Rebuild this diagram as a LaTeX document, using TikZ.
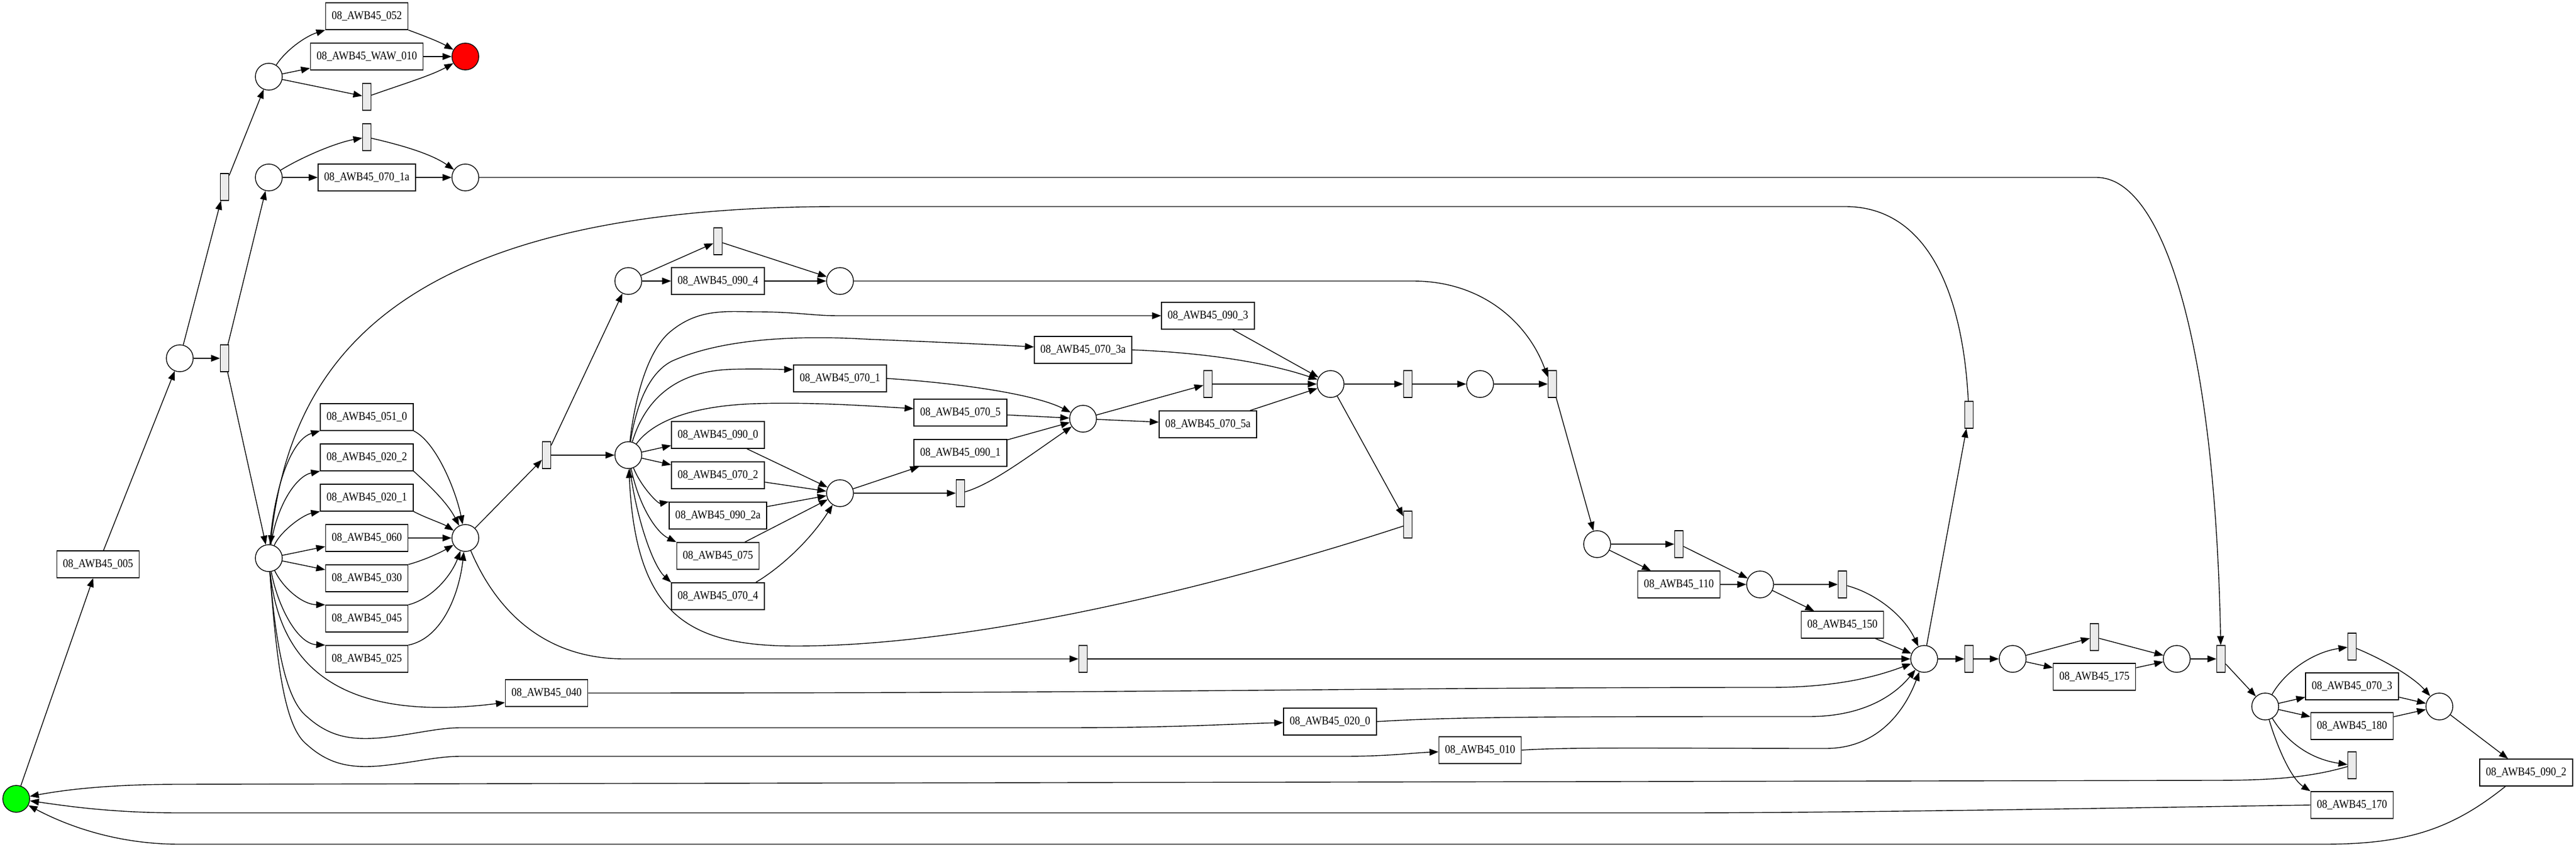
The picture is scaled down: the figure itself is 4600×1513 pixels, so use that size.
\documentclass[tikz,border=0pt]{standalone}
\usepackage{fontspec}
\setmainfont{Liberation Serif}[FakeStretch=0.88]
\usetikzlibrary{arrows.meta,calc}
\definecolor{gvgreen}{RGB}{0,255,0}
\definecolor{gvred}{RGB}{255,0,0}
\definecolor{trfill}{RGB}{235,235,235}
\begin{document}
\begin{tikzpicture}[x=0.02cm,y=-0.02cm,
  pl/.style={circle,draw,line width=0.8pt,minimum size=0.96cm,inner sep=0pt},
  tr/.style={rectangle,draw,line width=0.8pt,fill=trfill,minimum width=0.3cm,minimum height=0.96cm,inner sep=0pt},
  bx/.style={rectangle,draw,line width=0.8pt,minimum height=0.96cm,inner xsep=0.22cm,inner ysep=0pt,font=\fontsize{12}{13}\selectfont},
  arc/.style={-{Triangle[length=0.32cm,width=0.24cm]},line width=0.8pt},
]
\useasboundingbox[fill=white] (0,0) rectangle (4600,1513);
% places
\node[pl,fill=gvgreen] (g) at (29,1427) {};
\node[pl,fill=gvred] (red) at (831,101) {};
\node[pl] (p1) at (480,137) {};
\node[pl] (p2) at (480,317) {};
\node[pl] (p3) at (831,317) {};
\node[pl] (p4) at (321,640) {};
\node[pl] (p5) at (480,997) {};
\node[pl] (p6) at (831,961) {};
\node[pl] (p7) at (1122,502) {};
\node[pl] (p8) at (1500,502) {};
\node[pl] (p9) at (1122,813) {};
\node[pl] (p10) at (1934,748) {};
\node[pl] (p11) at (1500,881) {};
\node[pl] (p12) at (2376,686) {};
\node[pl] (p13) at (2643,686) {};
\node[pl] (p14) at (2852,972) {};
\node[pl] (p15) at (3143,1044) {};
\node[pl] (p16) at (3436,1177) {};
\node[pl] (p17) at (3594,1177) {};
\node[pl] (p18) at (3887,1177) {};
\node[pl] (p19) at (4045,1262) {};
\node[pl] (p20) at (4356,1262) {};
% transitions
\node[tr] (t1) at (655,173) {};
\node[tr] (t2) at (655,245) {};
\node[tr] (t3) at (401,334) {};
\node[tr] (t4) at (401,640) {};
\node[tr] (t5) at (976,813) {};
\node[tr] (t6) at (1282,431) {};
\node[tr] (t7) at (1715,881) {};
\node[tr] (t8) at (1934,1177) {};
\node[tr] (t9) at (2772,686) {};
\node[tr] (t10) at (2157,686) {};
\node[tr] (t11) at (2514,686) {};
\node[tr] (t12) at (2514,937) {};
\node[tr] (t13) at (2998,972) {};
\node[tr] (t14) at (3290,1044) {};
\node[tr] (t15) at (3516,741) {};
\node[tr] (t16) at (3516,1177) {};
\node[tr] (t17) at (3740,1138) {};
\node[tr] (t18) at (3966,1177) {};
\node[tr] (t19) at (4200,1155) {};
\node[tr] (t20) at (4200,1367) {};
% labelled transitions
\node[bx] (b052) at (655,29) {08\_AWB45\_052};
\node[bx] (bWAW) at (655,101) {08\_AWB45\_WAW\_010};
\node[bx] (b070_1a) at (655,317) {08\_AWB45\_070\_1a};
\node[bx] (b005) at (175,1008) {08\_AWB45\_005};
\node[bx] (b051_0) at (655,745) {08\_AWB45\_051\_0};
\node[bx] (b020_2) at (655,817) {08\_AWB45\_020\_2};
\node[bx] (b020_1) at (655,889) {08\_AWB45\_020\_1};
\node[bx] (b060) at (655,961) {08\_AWB45\_060};
\node[bx] (b030) at (655,1033) {08\_AWB45\_030};
\node[bx] (b045) at (655,1105) {08\_AWB45\_045};
\node[bx] (b025) at (655,1177) {08\_AWB45\_025};
\node[bx] (b040) at (976,1238) {08\_AWB45\_040};
\node[bx] (b020_0) at (2375,1289) {08\_AWB45\_020\_0};
\node[bx] (b010) at (2643,1340) {08\_AWB45\_010};
\node[bx] (b090_4) at (1282,502) {08\_AWB45\_090\_4};
\node[bx] (b090_0) at (1282,777) {08\_AWB45\_090\_0};
\node[bx] (b070_2) at (1282,849) {08\_AWB45\_070\_2};
\node[bx] (b090_2a) at (1282,921) {08\_AWB45\_090\_2a};
\node[bx] (b075) at (1282,993) {08\_AWB45\_075};
\node[bx] (b070_4) at (1282,1065) {08\_AWB45\_070\_4};
\node[bx] (b070_1) at (1500,676) {08\_AWB45\_070\_1};
\node[bx] (b070_5) at (1715,737) {08\_AWB45\_070\_5};
\node[bx] (b090_1) at (1715,809) {08\_AWB45\_090\_1};
\node[bx] (b070_3a) at (1934,625) {08\_AWB45\_070\_3a};
\node[bx] (b090_3) at (2157,564) {08\_AWB45\_090\_3};
\node[bx] (b070_5a) at (2157,758) {08\_AWB45\_070\_5a};
\node[bx] (b110) at (2998,1044) {08\_AWB45\_110};
\node[bx] (b150) at (3290,1116) {08\_AWB45\_150};
\node[bx] (b175) at (3740,1209) {08\_AWB45\_175};
\node[bx] (b070_3) at (4200,1226) {08\_AWB45\_070\_3};
\node[bx] (b180) at (4200,1297) {08\_AWB45\_180};
\node[bx] (b170) at (4200,1438) {08\_AWB45\_170};
\node[bx] (b090_2) at (4511,1380) {08\_AWB45\_090\_2};

% ---- arcs ----
\draw[arc] (g) -- (b005);
\draw[arc] (b005) -- (p4);
\draw[arc] (p4) -- (t3);
\draw[arc] (p4) -- (t4);
\draw[arc] (t3) -- (p1);
\draw[arc] (t4) -- (p2);
\draw[arc] (t4) -- (p5);
\draw[arc] (p1) .. controls (510,90) and (545,65) .. (b052.south west);
\draw[arc] (p1) -- (bWAW);
\draw[arc] (p1) -- (t1);
\draw[arc] (b052.south east) .. controls (760,65) and (785,75) .. (red);
\draw[arc] (bWAW) -- (red);
\draw[arc] (t1) .. controls (720,150) and (770,135) .. (red);
\draw[arc] (p2) .. controls (540,280) and (600,255) .. (t2);
\draw[arc] (p2) -- (b070_1a);
\draw[arc] (t2) .. controls (720,260) and (770,275) .. (p3);
\draw[arc] (b070_1a) -- (p3);
\draw[arc] (p3) -- (3744,317) .. controls (3860,317) and (3955,600) .. (t18);
% p5 fan
\draw[arc] (p5) .. controls (490,870) and (520,785) .. (b051_0.south west);
\draw[arc] (p5) .. controls (495,900) and (530,850) .. (b020_2.south west);
\draw[arc] (p5) .. controls (500,950) and (540,920) .. (b020_1.south west);
\draw[arc] (p5) -- (b060);
\draw[arc] (p5) -- (b030);
\draw[arc] (p5) .. controls (505,1050) and (540,1080) .. (b045.north west);
\draw[arc] (p5) .. controls (495,1080) and (530,1150) .. (b025.north west);
\draw[arc] (p5) .. controls (500,1200) and (620,1290) .. ($(b040.west)+(0,17)$);
\draw[arc] (p5) .. controls (492,1150) and (510,1250) .. (548,1280) .. controls (590,1318) and (630,1322) .. (680,1318) .. controls (740,1312) and (780,1300) .. (823,1300) -- (1900,1300) .. controls (2100,1300) and (2200,1293) .. (b020_0);
\draw[arc] (p5) .. controls (495,1200) and (510,1300) .. (548,1330) .. controls (590,1368) and (630,1372) .. (680,1368) .. controls (740,1362) and (780,1351) .. (823,1351) -- (2400,1351) .. controls (2480,1351) and (2520,1345) .. (b010);
% into p6
\draw[arc] (b051_0.south east) .. controls (780,790) and (815,880) .. (p6);
\draw[arc] (b020_2.south east) .. controls (770,870) and (800,900) .. (p6);
\draw[arc] (b020_1.south east) .. controls (760,925) and (790,935) .. (p6);
\draw[arc] (b060) -- (p6);
\draw[arc] (b030.north east) .. controls (760,1000) and (790,985) .. (p6);
\draw[arc] (b045.north east) .. controls (770,1070) and (805,1030) .. (p6);
\draw[arc] (b025.north east) .. controls (790,1140) and (820,1060) .. (p6);
\draw[arc] (p6) -- (t5);
\draw[arc] (p6) .. controls (890,1100) and (980,1177) .. (1115,1177) -- (t8);
\draw[arc] (t5) -- (p7);
\draw[arc] (t5) -- (p9);
\draw[arc] (p7) -- (t6);
\draw[arc] (p7) -- (b090_4);
\draw[arc] (t6) -- (p8);
\draw[arc] (b090_4) -- (p8);
\draw[arc] (p8) -- (2523,502) .. controls (2650,502) and (2730,580) .. ($(t9.north west)+(0,12)$);
% p9 fan
\draw[arc] (p9) .. controls (1135,700) and (1160,620) .. (1200,590) .. controls (1250,550) and (1300,557) .. (1351,557) .. controls (1420,557) and (1450,564) .. (1497,564) -- (b090_3);
\draw[arc] (p9) .. controls (1140,700) and (1170,660) .. (1200,645) .. controls (1300,600) and (1450,600) .. (1550,606) .. controls (1700,612) and (1800,617) .. (b070_3a);
\draw[arc] (p9) .. controls (1150,720) and (1200,665) .. (1300,660) .. controls (1350,658) and (1390,660) .. ($(b070_1.west)+(0,-16)$);
\draw[arc] (p9) .. controls (1160,760) and (1220,725) .. (1351,721) .. controls (1450,718) and (1550,725) .. ($(b070_5.west)+(0,-7)$);
\draw[arc] (p9) -- (b090_0);
\draw[arc] (p9) -- (b070_2);
\draw[arc] (p9) .. controls (1145,870) and (1175,900) .. (b090_2a.north west);
\draw[arc] (p9) .. controls (1140,900) and (1170,950) .. (b075.north west);
\draw[arc] (p9) .. controls (1135,920) and (1165,1010) .. (b070_4.north west);
% into p11
\draw[arc] (b090_0) -- (p11);
\draw[arc] (b070_2) -- (p11);
\draw[arc] (b090_2a) -- (p11);
\draw[arc] (b075) -- (p11);
\draw[arc] ($(b070_4.north east)+(-16,0)$) .. controls (1400,1010) and (1450,960) .. (p11);
\draw[arc] (p11) -- (b090_1);
\draw[arc] (p11) -- (t7);
\draw[arc] (t7) .. controls (1770,865) and (1830,820) .. (p10);
\draw[arc] (b090_1) -- (p10);
\draw[arc] (b070_5) -- (p10);
\draw[arc] (b070_1.east) .. controls (1720,685) and (1850,705) .. (p10);
\draw[arc] (p10) -- (t10);
\draw[arc] (p10) -- (b070_5a);
\draw[arc] (t10) -- (p12);
\draw[arc] (b070_5a) -- (p12);
\draw[arc] (b090_3) -- (p12);
\draw[arc] (b070_3a.east) .. controls (2200,632) and (2300,660) .. (p12);
\draw[arc] (p12) -- (t11);
\draw[arc] (t11) -- (p13);
\draw[arc] (p13) -- (t9);
\draw[arc] (p12) -- (t12);
\draw[arc] (t12) .. controls (2200,1040) and (1750,1154) .. (1421,1154) .. controls (1230,1154) and (1135,1100) .. (p9);
% right part
\draw[arc] (t9) -- (p14);
\draw[arc] (p14) -- (t13);
\draw[arc] (p14) -- (b110);
\draw[arc] (t13) -- (p15);
\draw[arc] (b110) -- (p15);
\draw[arc] (p15) -- (t14);
\draw[arc] (p15) -- (b150);
\draw[arc] (t14) .. controls (3350,1060) and (3400,1100) .. (p16);
\draw[arc] (b150) -- (p16);
\draw[arc] (t8) -- (p16);
\draw[arc] (b040.east) .. controls (2200,1238) and (2400,1228) .. (3160,1228) .. controls (3290,1228) and (3360,1205) .. (p16);
\draw[arc] (b020_0.east) .. controls (2600,1280) and (2800,1280) .. (3230,1280) .. controls (3330,1280) and (3385,1240) .. (p16);
\draw[arc] (b010.east) .. controls (2800,1334) and (3000,1337) .. (3260,1337) .. controls (3360,1337) and (3405,1260) .. (p16);
\draw[arc] (p16) -- (t15);
\draw[arc] (t15) .. controls (3505,520) and (3440,369) .. (3295,369) -- (1500,369) .. controls (700,369) and (520,650) .. (p5);
\draw[arc] (p16) -- (t16);
\draw[arc] (t16) -- (p17);
\draw[arc] (p17) -- (t17);
\draw[arc] (p17) -- (b175);
\draw[arc] (t17) -- (p18);
\draw[arc] (b175) -- (p18);
\draw[arc] (p18) -- (t18);
\draw[arc] (t18) -- (p19);
\draw[arc] (p19) .. controls (4080,1200) and (4130,1165) .. (t19);
\draw[arc] (p19) -- (b070_3);
\draw[arc] (p19) -- (b180);
\draw[arc] (p19) .. controls (4080,1320) and (4120,1355) .. (t20);
\draw[arc] (p19) .. controls (4065,1330) and (4090,1390) .. (b170.north west);
\draw[arc] (t19) .. controls (4260,1180) and (4310,1210) .. (p20);
\draw[arc] (b070_3) -- (p20);
\draw[arc] (b180) -- (p20);
\draw[arc] (p20) -- (b090_2);
% returns to the initial place
\draw[arc] (t20) .. controls (4120,1390) and (4050,1394) .. (3950,1394) -- (320,1401) .. controls (200,1401) and (120,1410) .. (g);
\draw[arc] (b170.west) .. controls (3800,1443) and (3300,1452) .. (3000,1452) -- (320,1452) .. controls (200,1452) and (120,1440) .. (g);
\draw[arc] ($(b090_2.south)+(-37,0)$) .. controls (4380,1480) and (4300,1508) .. (4150,1508) -- (320,1508) .. controls (200,1508) and (110,1470) .. (g);
\end{tikzpicture}
\end{document}
